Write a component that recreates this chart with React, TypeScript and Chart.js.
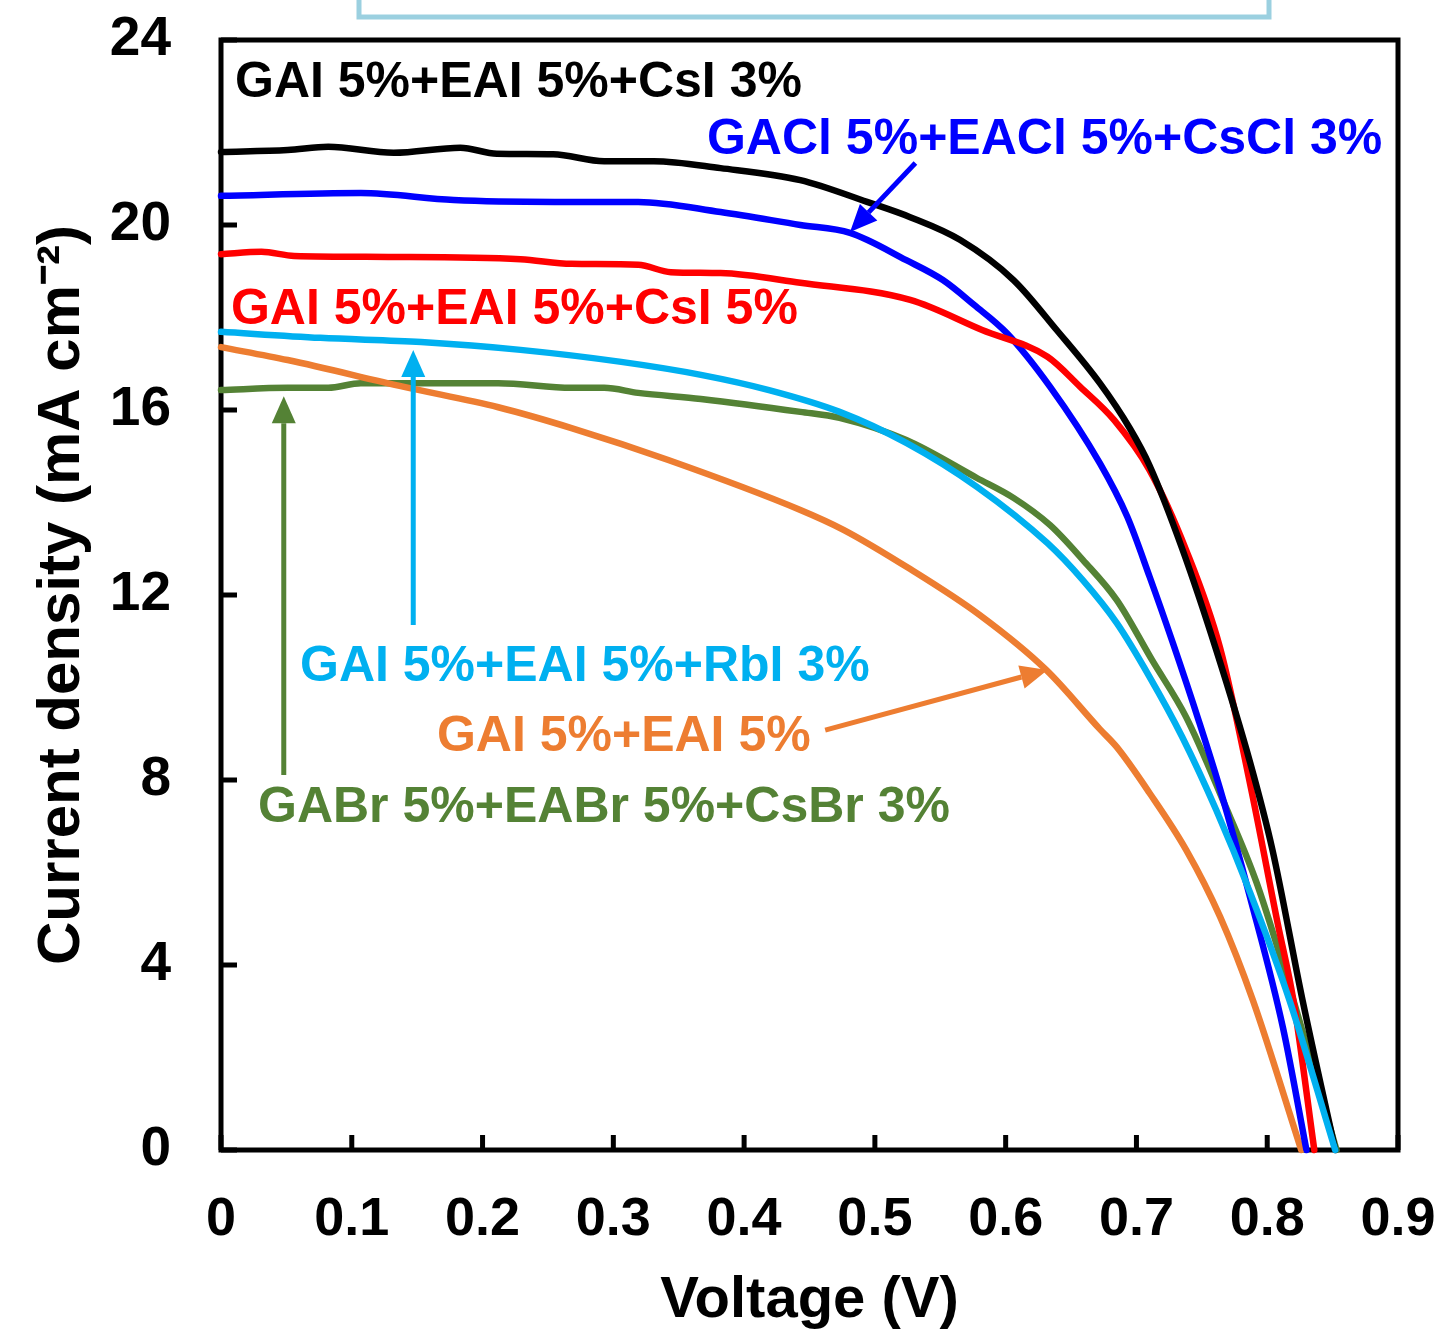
import React, { useEffect, useRef } from "react";
import { Chart, registerables } from "chart.js";

Chart.register(...registerables);

const FONT = '"Liberation Sans", Arial, Helvetica, sans-serif';

// Axis ticks
const xTickValues = [0, 0.1, 0.2, 0.3, 0.4, 0.5, 0.6, 0.7, 0.8, 0.9];
const yTickValues = [0, 4, 8, 12, 16, 20, 24];

// Series: GAI 5%+EAI 5%+CsI 3% (black)
const csI3V = [0, 0.051, 0.082, 0.132, 0.183, 0.211, 0.254, 0.293, 0.331, 0.382, 0.443, 0.494, 0.527, 0.565, 0.606, 0.639, 0.672, 0.695, 0.71, 0.735, 0.761, 0.787, 0.804, 0.827, 0.852];
const csI3J = [21.58, 21.62, 21.69, 21.56, 21.67, 21.54, 21.53, 21.38, 21.38, 21.23, 20.97, 20.5, 20.17, 19.68, 18.81, 17.73, 16.58, 15.6, 14.8, 13.0, 10.81, 8.37, 6.49, 3.24, 0];

// GACl 5%+EACl 5%+CsCl 3% (blue)
const csClV = [0, 0.107, 0.178, 0.255, 0.319, 0.382, 0.443, 0.481, 0.524, 0.552, 0.576, 0.601, 0.634, 0.672, 0.693, 0.71, 0.728, 0.748, 0.764, 0.787, 0.812, 0.83];
const csClJ = [20.63, 20.69, 20.54, 20.5, 20.5, 20.28, 20.0, 19.83, 19.24, 18.81, 18.27, 17.66, 16.5, 14.85, 13.69, 12.4, 10.95, 9.25, 7.8, 5.45, 2.65, 0];

// GAI 5%+EAI 5%+CsI 5% (red)
const csI5V = [0, 0.031, 0.056, 0.128, 0.229, 0.268, 0.319, 0.344, 0.382, 0.443, 0.527, 0.582, 0.632, 0.657, 0.683, 0.71, 0.738, 0.764, 0.787, 0.808, 0.82, 0.836];
const csI5J = [19.37, 19.42, 19.33, 19.31, 19.26, 19.16, 19.14, 18.98, 18.96, 18.75, 18.38, 17.73, 17.15, 16.5, 15.78, 14.7, 12.97, 10.85, 7.9, 4.9, 3.24, 0];

// GAI 5%+EAI 5%+RbI 3% (light blue)
const rbIV = [0, 0.076, 0.153, 0.229, 0.306, 0.367, 0.419, 0.473, 0.524, 0.578, 0.632, 0.659, 0.685, 0.71, 0.735, 0.761, 0.787, 0.817, 0.852];
const rbIJ = [17.69, 17.56, 17.47, 17.3, 17.04, 16.76, 16.43, 15.96, 15.29, 14.34, 13.12, 12.32, 11.39, 10.23, 8.93, 7.35, 5.56, 3.24, 0];

// GABr 5%+EABr 5%+CsBr 3% (green)
const csBrV = [0, 0.051, 0.082, 0.107, 0.212, 0.268, 0.293, 0.319, 0.367, 0.443, 0.473, 0.524, 0.578, 0.606, 0.634, 0.659, 0.685, 0.712, 0.738, 0.766, 0.792, 0.82, 0.853];
const csBrJ = [16.43, 16.48, 16.48, 16.58, 16.58, 16.48, 16.48, 16.37, 16.24, 15.96, 15.83, 15.35, 14.53, 14.1, 13.51, 12.76, 11.89, 10.59, 9.36, 7.57, 5.77, 3.24, 0];

// GAI 5%+EAI 5% (orange)
const baseV = [0, 0.051, 0.14, 0.212, 0.268, 0.342, 0.443, 0.476, 0.527, 0.58, 0.631, 0.672, 0.685, 0.71, 0.738, 0.764, 0.789, 0.826];
const baseJ = [17.36, 17.08, 16.5, 16.06, 15.61, 14.92, 13.84, 13.41, 12.56, 11.57, 10.38, 9.1, 8.71, 7.72, 6.49, 5.04, 3.24, 0];

// Annotation labels (text, colour, anchor V, anchor J of baseline-left)
const labelTexts = [
  "GAI 5%+EAI 5%+CsI 3%",
  "GACl 5%+EACl 5%+CsCl 3%",
  "GAI 5%+EAI 5%+CsI 5%",
  "GAI 5%+EAI 5%+RbI 3%",
  "GAI 5%+EAI 5%",
  "GABr 5%+EABr 5%+CsBr 3%",
];
const labelColors = ["#000000", "#0000ff", "#ff0000", "#00b0f0", "#ed7d31", "#548235"];
const labelV = [0.0107, 0.3716, 0.0076, 0.0604, 0.1651, 0.0283];
const labelJ = [22.77, 21.54, 17.86, 10.14, 8.63, 7.09];

// Arrows: from (V,J) to (V,J)
const arrowColors = ["#0000ff", "#00b0f0", "#ed7d31", "#548235"];
const arrowFromV = [0.531, 0.147, 0.462, 0.048];
const arrowFromJ = [21.34, 11.35, 9.08, 8.11];
const arrowToV = [0.481, 0.147, 0.632, 0.048];
const arrowToJ = [19.85, 17.3, 10.38, 16.3];

const zip = (xs: number[], ys: number[]) => xs.map((x, i) => ({ x, y: ys[i] }));

function drawArrow(ctx: CanvasRenderingContext2D, x1: number, y1: number, x2: number, y2: number, color: string) {
  const ang = Math.atan2(y2 - y1, x2 - x1);
  const hl = 27;
  const hw = 12;
  const bx = x2 - hl * Math.cos(ang);
  const by = y2 - hl * Math.sin(ang);
  ctx.save();
  ctx.strokeStyle = color;
  ctx.lineWidth = 5;
  ctx.beginPath();
  ctx.moveTo(x1, y1);
  ctx.lineTo(bx, by);
  ctx.stroke();
  ctx.fillStyle = color;
  ctx.beginPath();
  ctx.moveTo(x2, y2);
  ctx.lineTo(bx + hw * Math.sin(ang), by - hw * Math.cos(ang));
  ctx.lineTo(bx - hw * Math.sin(ang), by + hw * Math.cos(ang));
  ctx.closePath();
  ctx.fill();
  ctx.restore();
}

const framePlugin = {
  id: "frameAndTicks",
  beforeDatasetsDraw(chart: any) {
    const { ctx, chartArea, scales } = chart;
    const { left, right, top, bottom } = chartArea;
    ctx.save();
    // partial light-blue box at the top of the figure
    ctx.strokeStyle = "#9bd0e0";
    ctx.lineWidth = 5;
    ctx.strokeRect(359, -20, 910, 37);
    // inward ticks
    ctx.strokeStyle = "#000";
    ctx.lineWidth = 5;
    ctx.beginPath();
    xTickValues.forEach((v) => {
      const px = scales.x.getPixelForValue(v);
      ctx.moveTo(px, bottom);
      ctx.lineTo(px, bottom - 15);
    });
    yTickValues.forEach((v) => {
      const py = scales.y.getPixelForValue(v);
      ctx.moveTo(left, py);
      ctx.lineTo(left + 16, py);
    });
    ctx.stroke();
    // frame
    ctx.lineWidth = 5;
    ctx.strokeRect(left, top, right - left, bottom - top);
    ctx.restore();
  },
  afterDatasetsDraw(chart: any) {
    const { ctx, scales } = chart;
    ctx.save();
    ctx.font = `bold 50px ${FONT}`;
    ctx.textBaseline = "alphabetic";
    ctx.textAlign = "left";
    labelTexts.forEach((t, i) => {
      ctx.fillStyle = labelColors[i];
      ctx.fillText(t, scales.x.getPixelForValue(labelV[i]), scales.y.getPixelForValue(labelJ[i]));
    });
    arrowColors.forEach((c, i) => {
      drawArrow(
        ctx,
        scales.x.getPixelForValue(arrowFromV[i]),
        scales.y.getPixelForValue(arrowFromJ[i]),
        scales.x.getPixelForValue(arrowToV[i]),
        scales.y.getPixelForValue(arrowToJ[i]),
        c
      );
    });
    ctx.restore();
  },
};

export default function App() {
  const canvasRef = useRef<HTMLCanvasElement | null>(null);

  useEffect(() => {
    if (!canvasRef.current) return;
    const mk = (label: string, xs: number[], ys: number[], color: string) => ({
      label,
      data: zip(xs, ys),
      borderColor: color,
      backgroundColor: color,
      borderWidth: 6.5,
      pointRadius: 0,
      showLine: true,
      fill: false,
      cubicInterpolationMode: "monotone" as const,
      borderCapStyle: "round" as const,
      borderJoinStyle: "round" as const,
      clip: false as const,
    });
    const chart = new Chart(canvasRef.current, {
      type: "scatter",
      data: {
        datasets: [
          mk(labelTexts[3], rbIV, rbIJ, "#00b0f0"),
          mk(labelTexts[0], csI3V, csI3J, "#000000"),
          mk(labelTexts[2], csI5V, csI5J, "#ff0000"),
          mk(labelTexts[1], csClV, csClJ, "#0000ff"),
          mk(labelTexts[4], baseV, baseJ, "#ed7d31"),
          mk(labelTexts[5], csBrV, csBrJ, "#548235"),
        ],
      },
      options: {
        animation: false,
        responsive: false,
        maintainAspectRatio: false,
        layout: { padding: { top: 40, right: 44, left: 0, bottom: 0 } },
        plugins: { legend: { display: false }, tooltip: { enabled: false } },
        scales: {
          x: {
            type: "linear",
            min: 0,
            max: 0.9,
            afterBuildTicks: (s: any) => {
              s.ticks = xTickValues.map((v) => ({ value: v }));
            },
            afterFit: (s: any) => {
              s.height = 180;
              s.paddingLeft = 0;
              s.paddingRight = 0;
              s.paddingTop = 0;
              s.paddingBottom = 0;
            },
            grid: { display: false, drawTicks: false, tickLength: 0 },
            border: { display: false },
            ticks: {
              color: "#000",
              padding: 38,
              maxRotation: 0,
              autoSkip: false,
              font: { family: FONT, size: 54, weight: "bold" },
              callback: (v: any) => (Number(v) === 0 ? "0" : Number(v).toFixed(1)),
            },
            title: {
              display: true,
              text: "Voltage (V)",
              color: "#000",
              padding: 0,
              font: { family: FONT, size: 58, weight: "bold", lineHeight: 1 },
            },
          },
          y: {
            type: "linear",
            min: 0,
            max: 24,
            afterBuildTicks: (s: any) => {
              s.ticks = yTickValues.map((v) => ({ value: v }));
            },
            afterFit: (s: any) => {
              s.width = 221;
              s.paddingLeft = 0;
              s.paddingRight = 0;
              s.paddingTop = 0;
              s.paddingBottom = 0;
            },
            grid: { display: false, drawTicks: false, tickLength: 0 },
            border: { display: false },
            ticks: {
              color: "#000",
              padding: 50,
              autoSkip: false,
              font: { family: FONT, size: 55, weight: "bold" },
              callback: (v: any) => String(v),
            },
            title: {
              display: true,
              text: "Current density (mA cm\u207B\u00B2)",
              color: "#000",
              padding: { top: 32, bottom: 0 },
              font: { family: FONT, size: 60, weight: "bold", lineHeight: 1 },
            },
          },
        },
      },
      plugins: [framePlugin],
    });
    return () => chart.destroy();
  }, []);

  return (
    <div style={{ position: "absolute", left: 0, top: 0, width: 1442, height: 1330, background: "#fff" }}>
      <canvas ref={canvasRef} width={1442} height={1330} style={{ width: 1442, height: 1330 }} />
    </div>
  );
}
